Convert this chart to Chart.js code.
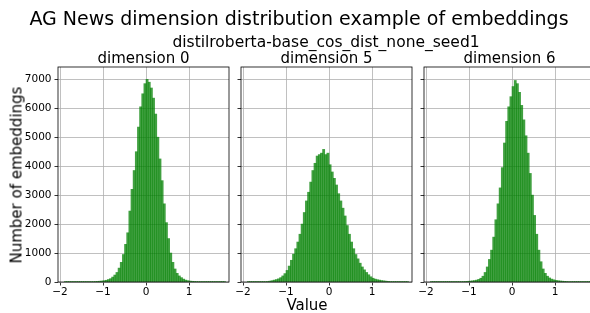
<!DOCTYPE html>
<html><head><meta charset="utf-8">
<script src="https://cdn.jsdelivr.net/npm/chart.js@4.4.1/dist/chart.umd.min.js"></script>
<style>
html,body{margin:0;padding:0;width:590px;height:313px;overflow:hidden;background:#fff;font-family:'DejaVu Sans',sans-serif;}
body{position:relative;}
canvas{position:absolute;left:0;top:0;}
.t{position:absolute;white-space:nowrap;color:#000;line-height:1;}
</style></head><body>
<canvas id="c0" width="620" height="313"></canvas>
<canvas id="c1" width="620" height="313"></canvas>
<canvas id="c2" width="620" height="313"></canvas>
<div class="t" id="title" style="font-size:19px;left:299px;top:9px;transform:translateX(-50%)"></div>
<div class="t" id="subtitle" style="font-size:15.5px;left:326px;top:35px;transform:translateX(-50%)"></div>
<div class="t" id="pt0" style="font-size:15px;left:143.5px;top:51px;transform:translateX(-50%)"></div>
<div class="t" id="pt1" style="font-size:15px;left:326.5px;top:51px;transform:translateX(-50%)"></div>
<div class="t" id="pt2" style="font-size:15px;left:509.5px;top:51px;transform:translateX(-50%)"></div>
<div class="t" id="xlabel" style="font-size:15px;left:307px;top:298px;transform:translateX(-50%)"></div>
<div class="t" id="ylabel" style="font-size:15px;left:17px;top:175px;transform:translate(-50%,-50%) rotate(-90deg)"></div>
<script>
const figureTitle = 'AG News dimension distribution example of embeddings';
const figureSubtitle = 'distilroberta-base_cos_dist_none_seed1';
const panelTitles = ['dimension 0', 'dimension 5', 'dimension 6'];
const xAxisLabel = 'Value';
const yAxisLabel = 'Number of embeddings';
const xTickValues = [-2, -1, 0, 1];
const yTickValues = [0, 1000, 2000, 3000, 4000, 5000, 6000, 7000];

const binCenters = [-1.875,-1.825,-1.775,-1.725,-1.675,-1.625,-1.575,-1.525,-1.475,-1.425,-1.375,-1.325,-1.275,-1.225,-1.175,-1.125,-1.075,-1.025,-0.975,-0.925,-0.875,-0.825,-0.775,-0.725,-0.675,-0.625,-0.575,-0.525,-0.475,-0.425,-0.375,-0.325,-0.275,-0.225,-0.175,-0.125,-0.075,-0.025,0.025,0.075,0.125,0.175,0.225,0.275,0.325,0.375,0.425,0.475,0.525,0.575,0.625,0.675,0.725,0.775,0.825,0.875,0.925,0.975,1.025,1.075,1.125,1.175,1.225,1.275,1.325,1.375,1.425,1.475,1.525,1.575,1.625,1.675,1.725,1.775,1.825];

const dim0Counts = [1,1,2,1,2,3,3,4,5,6,8,10,12,15,18,22,28,35,
  45,60,85,115,170,240,330,480,680,950,1300,1700,2450,3200,3850,4500,5350,6050,6500,6850,
  7000,6900,6700,6350,5800,5000,4250,3500,2700,2050,1500,1000,680,450,300,210,150,100,65,45,
  32,25,20,16,13,10,8,7,6,5,4,3,3,2,2,1,1];

const dim5Counts = [2,2,3,4,5,6,8,10,14,
  20,30,45,65,85,110,150,210,290,400,550,750,960,1150,1380,1650,2000,2400,2800,3100,3450,3850,4100,4350,4400,4450,4580,4400,4450,
  4050,3800,3580,3350,3050,2800,2550,2280,1950,1650,1380,1150,950,800,650,520,420,330,250,180,130,100,80,65,50,40,30,
  22,16,12,9,7,5,4,3,2,1];

const dim6Counts = [1,1,1,2,2,2,3,3,4,5,6,7,9,11,13,16,
  20,25,30,40,50,65,90,130,200,330,520,780,1100,1550,2150,2700,3250,3950,4800,5550,6050,6400,
  6750,6960,6850,6550,6100,5600,5050,4450,3750,3000,2300,1650,1100,700,450,300,200,140,100,75,55,45,
  35,28,22,18,14,11,9,7,6,5,4,3,2,2,1];

document.getElementById('title').textContent = figureTitle;
document.getElementById('subtitle').textContent = figureSubtitle;
panelTitles.forEach((t, i) => document.getElementById('pt' + i).textContent = t);
document.getElementById('xlabel').textContent = xAxisLabel;
document.getElementById('ylabel').textContent = yAxisLabel;

Chart.defaults.font.family = "'DejaVu Sans', sans-serif";
Chart.defaults.color = '#000';

const fmt = v => (v < 0 ? '\u2212' + Math.abs(v) : String(v));

const spinePlugin = {
  id: 'spines',
  afterDraw(chart) {
    const {ctx, chartArea: a} = chart;
    ctx.save();
    ctx.strokeStyle = '#000';
    ctx.lineWidth = 0.8;
    ctx.strokeRect(a.left, a.top, a.right - a.left, a.bottom - a.top);
    ctx.restore();
  }
};

const CW = 620, CH = 313;
const panels = [
  {id: 'c0', L: 58, R: 229, counts: dim0Counts, showY: true},
  {id: 'c1', L: 241, R: 412, counts: dim5Counts, showY: false},
  {id: 'c2', L: 424, R: 595, counts: dim6Counts, showY: false}
];
const T = 67, B = 282, XH = 28;
const xMin = -2.047, xMax = 1.93, yMax = 7425;

panels.forEach(p => {
  const yw = p.showY ? 50 : 4;
  new Chart(document.getElementById(p.id), {
    type: 'bar',
    data: {
      datasets: [{
        data: binCenters.map((c, i) => ({x: c, y: p.counts[i]})),
        backgroundColor: 'rgba(0,128,0,0.75)',
        borderWidth: 0,
        barPercentage: 1.0,
        categoryPercentage: 1.0
      }]
    },
    options: {
      responsive: false,
      animation: false,
      devicePixelRatio: 1,
      layout: {padding: {left: p.L - yw, right: CW - p.R, top: T, bottom: CH - B - XH}},
      plugins: {legend: {display: false}, tooltip: {enabled: false}, title: {display: false}},
      scales: {
        x: {
          type: 'linear', min: xMin, max: xMax, offset: false, z: 1,
          afterBuildTicks: s => { s.ticks = xTickValues.map(v => ({value: v})); },
          afterFit: s => { s.height = XH; },
          grid: {color: '#b0b0b0', lineWidth: 0.8, tickColor: '#000', tickLength: 3.5, tickWidth: 0.8, offset: false},
          border: {display: false},
          ticks: {callback: v => fmt(v), font: {size: 10.5}, color: '#000', padding: 0, maxRotation: 0, autoSkip: false}
        },
        y: {
          min: 0, max: yMax, z: 1,
          afterBuildTicks: s => { s.ticks = yTickValues.map(v => ({value: v})); },
          afterFit: s => { s.width = yw; },
          grid: {color: '#b0b0b0', lineWidth: 0.8, tickColor: '#000', tickLength: 3.5, tickWidth: 0.8},
          border: {display: false},
          ticks: {display: p.showY, callback: v => fmt(v), font: {size: 10.5}, color: '#000', padding: 3}
        }
      }
    },
    plugins: [spinePlugin]
  });
});
</script>
</body></html>
